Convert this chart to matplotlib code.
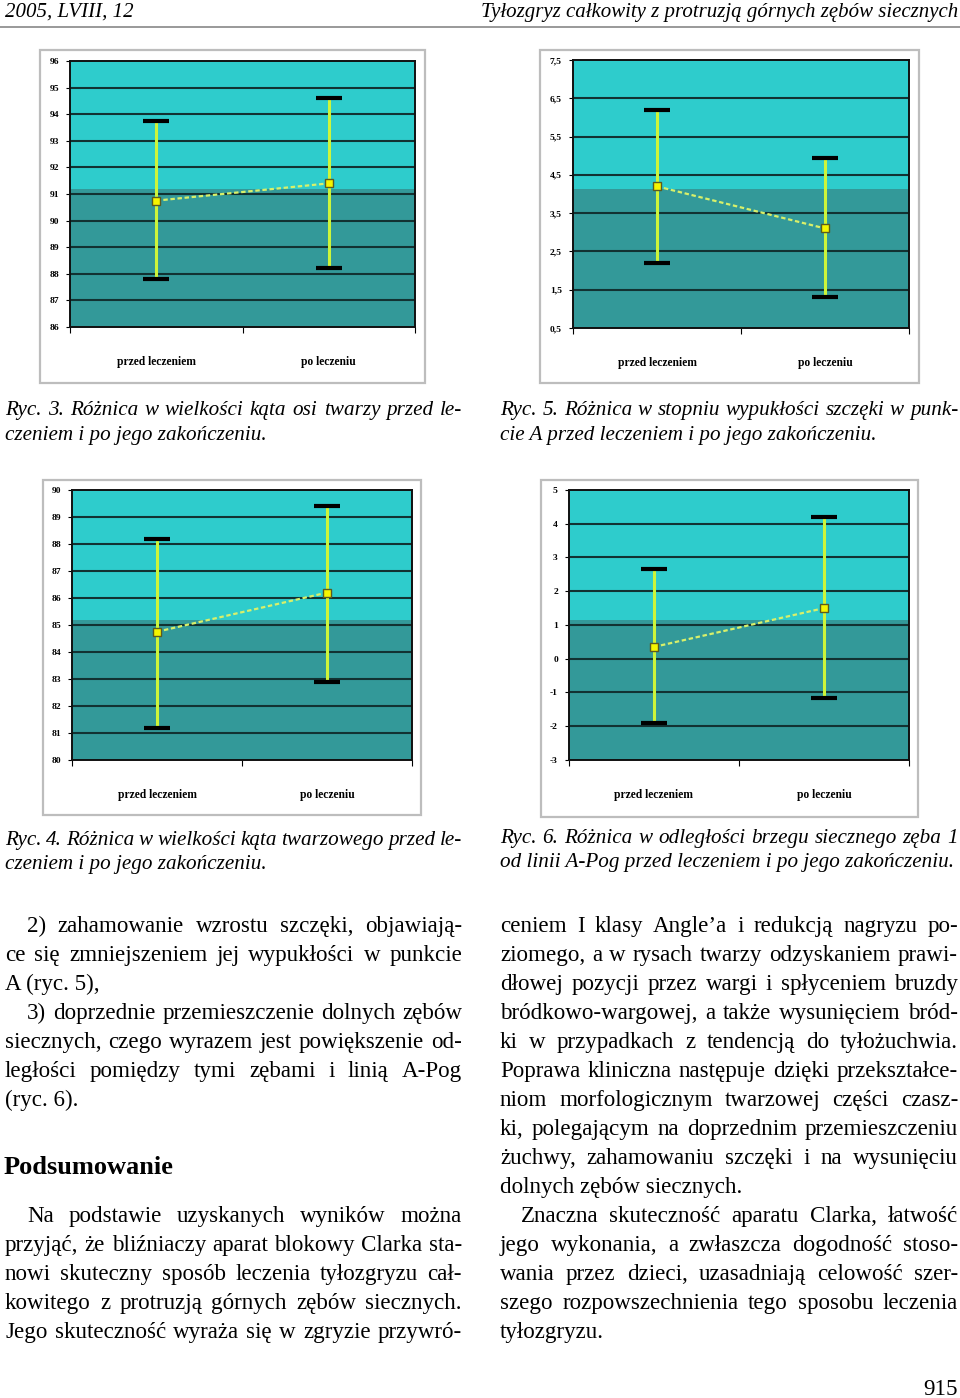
import matplotlib
matplotlib.use('Agg')
import matplotlib.pyplot as plt
from matplotlib.patches import Rectangle

W, H = 960, 1398

categories = ['przed leczeniem', 'po leczeniu']

# Ryc. 3 - kat osi twarzy
ryc3_mean = [90.75, 91.4]
ryc3_low = [87.8, 88.2]
ryc3_high = [93.75, 94.6]
ryc3_ticks = [86, 87, 88, 89, 90, 91, 92, 93, 94, 95, 96]

# Ryc. 5 - wypuklosc szczeki w punkcie A
ryc5_mean = [4.2, 3.1]
ryc5_low = [2.2, 1.3]
ryc5_high = [6.2, 4.95]
ryc5_ticks = [0.5, 1.5, 2.5, 3.5, 4.5, 5.5, 6.5, 7.5]

# Ryc. 4 - kat twarzowy
ryc4_mean = [84.75, 86.2]
ryc4_low = [81.2, 82.9]
ryc4_high = [88.2, 89.4]
ryc4_ticks = [80, 81, 82, 83, 84, 85, 86, 87, 88, 89, 90]

# Ryc. 6 - odleglosc brzegu siecznego od linii A-Pog
ryc6_mean = [0.35, 1.5]
ryc6_low = [-1.9, -1.15]
ryc6_high = [2.65, 4.2]
ryc6_ticks = [-3, -2, -1, 0, 1, 2, 3, 4, 5]

LIGHT = '#2ecccc'
DARK = '#339999'
SERIF = 'Liberation Serif'

fig = plt.figure(figsize=(W / 100, H / 100), dpi=100)
fig.patch.set_facecolor('white')


def fx(x):
    return x / W


def fy(y):
    return 1 - y / H


def chart(frame, plot, mean, low, high, ticks, fmt):
    fl, ft, fr, fb = frame
    fig.patches.append(Rectangle((fx(fl), fy(fb)), fx(fr - fl), (fb - ft) / H,
                                 transform=fig.transFigure, facecolor='white',
                                 edgecolor='#bdbdbd', lw=1.6, zorder=-1))
    pl, pt, pr, pb = plot
    ax = fig.add_axes([fx(pl), fy(pb), fx(pr - pl), (pb - pt) / H])
    ax.set_zorder(2)
    ax.set_facecolor(LIGHT)
    ax.add_patch(Rectangle((0, 0), 1, 0.52, transform=ax.transAxes,
                           facecolor=DARK, edgecolor='none', zorder=0))
    ax.set_ylim(ticks[0], ticks[-1])
    ax.set_xlim(0, 2)
    for t in ticks[1:-1]:
        ax.axhline(t, color='#123232', lw=1.5, zorder=1)
    x = [0.5, 1.5]
    ax.plot(x, mean, color='#d8f06a', lw=1.6, ls=(0, (2, 1.2)), zorder=3)
    yerr = [[m - lo for m, lo in zip(mean, low)], [hi - m for m, hi in zip(mean, high)]]
    ax.errorbar(x, mean, yerr=yerr, fmt='none', ecolor='#cdf53a', elinewidth=2.2,
                capsize=0, zorder=2)
    # black caps drawn on top
    ax.scatter(x + x, low + high, marker='_', s=340, color='black', lw=3, zorder=4)
    ax.plot(x, mean, ls='none', marker='s', ms=6, mfc='#f5f500', mec='#5a5a20',
            mew=1, zorder=5)
    ax.set_yticks(ticks)
    ax.set_yticklabels([fmt(t) for t in ticks], fontsize=6.8, fontweight='bold',
                       family=SERIF)
    ax.set_xticks([0, 1, 2])
    ax.set_xticklabels([])
    ax.set_xticks([0.5, 1.5], minor=True)
    ax.set_xticklabels(categories, minor=True, fontsize=8.3, fontweight='bold',
                       family=SERIF)
    ax.tick_params(axis='x', which='minor', length=0, pad=21)
    ax.tick_params(axis='x', which='major', length=4, width=0.8)
    ax.tick_params(axis='y', length=3, width=0.8, pad=5)
    for s in ax.spines.values():
        s.set_color('#101010')
        s.set_linewidth(1.4)
    return ax


chart((40, 50, 425, 383), (70, 61, 415, 327), ryc3_mean, ryc3_low, ryc3_high,
      ryc3_ticks, lambda t: '%d' % t)
chart((540, 50, 919, 383), (573, 60, 909, 328), ryc5_mean, ryc5_low, ryc5_high,
      ryc5_ticks, lambda t: ('%.1f' % t).replace('.', ','))
chart((43, 480, 421, 815), (72, 490, 412, 760), ryc4_mean, ryc4_low, ryc4_high,
      ryc4_ticks, lambda t: '%d' % t)
chart((541, 480, 918, 817), (569, 490, 909, 760), ryc6_mean, ryc6_low, ryc6_high,
      ryc6_ticks, lambda t: '%d' % t)

renderer = fig.canvas.get_renderer()


def word_width(word, props):
    t = fig.text(0, 0, word, **props)
    w = t.get_window_extent(renderer).width
    t.remove()
    return w


def line(x0, x1, y, txt, props, justify=True):
    base = fy(y)
    if not justify:
        fig.text(fx(x0), base, txt, va='baseline', ha='left', **props)
        return
    words = txt.split()
    widths = [word_width(w, props) for w in words]
    gap = (x1 - x0 - sum(widths)) / max(len(words) - 1, 1)
    x = x0
    for w, wd in zip(words, widths):
        fig.text(fx(x), base, w, va='baseline', ha='left', **props)
        x += wd + gap


# header
hdr = dict(family=SERIF, style='italic', fontsize=15)
fig.text(fx(5), fy(17), '2005, LVIII, 12', va='baseline', ha='left', **hdr)
fig.text(fx(958), fy(17), 'Tyłozgryz całkowity z protruzją górnych zębów siecznych',
         va='baseline', ha='right', **hdr)
fig.add_artist(plt.Line2D([0, 1], [fy(27), fy(27)], color='#888888', lw=1.2))

# captions
cap = dict(family=SERIF, style='italic', fontsize=15.2)
line(5, 462, 415, 'Ryc. 3. Różnica w wielkości kąta osi twarzy przed le-', cap)
line(5, 462, 440, 'czeniem i po jego zakończeniu.', cap, False)
line(500, 958, 415, 'Ryc. 5. Różnica w stopniu wypukłości szczęki w punk-', cap)
line(500, 958, 440, 'cie A przed leczeniem i po jego zakończeniu.', cap, False)
line(5, 462, 845, 'Ryc. 4. Różnica w wielkości kąta twarzowego przed le-', cap)
line(5, 462, 869, 'czeniem i po jego zakończeniu.', cap, False)
line(500, 958, 843, 'Ryc. 6. Różnica w odległości brzegu siecznego zęba 1', cap)
line(500, 958, 867, 'od linii A-Pog przed leczeniem i po jego zakończeniu.', cap, False)

# body text
body = dict(family=SERIF, fontsize=16.6)
left_lines = [
    (27, 932, '2) zahamowanie wzrostu szczęki, objawiają-', True),
    (5, 961, 'ce się zmniejszeniem jej wypukłości w punkcie', True),
    (5, 990, 'A (ryc. 5),', False),
    (27, 1019, '3) doprzednie przemieszczenie dolnych zębów', True),
    (5, 1048, 'siecznych, czego wyrazem jest powiększenie od-', True),
    (5, 1077, 'ległości pomiędzy tymi zębami i linią A-Pog', True),
    (5, 1106, '(ryc. 6).', False),
    (27, 1222, 'Na podstawie uzyskanych wyników można', True),
    (5, 1251, 'przyjąć, że bliźniaczy aparat blokowy Clarka sta-', True),
    (5, 1280, 'nowi skuteczny sposób leczenia tyłozgryzu cał-', True),
    (5, 1309, 'kowitego z protruzją górnych zębów siecznych.', True),
    (5, 1338, 'Jego skuteczność wyraża się w zgryzie przywró-', True),
]
for x0, y, txt, j in left_lines:
    line(x0, 462, y, txt, body, j)

fig.text(fx(4), fy(1174), 'Podsumowanie', va='baseline', ha='left',
         family=SERIF, fontweight='bold', fontsize=19)

right_lines = [
    (500, 932, 'ceniem I klasy Angle’a i redukcją nagryzu po-', True),
    (500, 961, 'ziomego, a w rysach twarzy odzyskaniem prawi-', True),
    (500, 990, 'dłowej pozycji przez wargi i spłyceniem bruzdy', True),
    (500, 1019, 'bródkowo-wargowej, a także wysunięciem bród-', True),
    (500, 1048, 'ki w przypadkach z tendencją do tyłożuchwia.', True),
    (500, 1077, 'Poprawa kliniczna następuje dzięki przekształce-', True),
    (500, 1106, 'niom morfologicznym twarzowej części czasz-', True),
    (500, 1135, 'ki, polegającym na doprzednim przemieszczeniu', True),
    (500, 1164, 'żuchwy, zahamowaniu szczęki i na wysunięciu', True),
    (500, 1193, 'dolnych zębów siecznych.', False),
    (521, 1222, 'Znaczna skuteczność aparatu Clarka, łatwość', True),
    (500, 1251, 'jego wykonania, a zwłaszcza dogodność stoso-', True),
    (500, 1280, 'wania przez dzieci, uzasadniają celowość szer-', True),
    (500, 1309, 'szego rozpowszechnienia tego sposobu leczenia', True),
    (500, 1338, 'tyłozgryzu.', False),
]
for x0, y, txt, j in right_lines:
    line(x0, 958, y, txt, body, j)

fig.text(fx(958), fy(1395), '915', va='baseline', ha='right', family=SERIF,
         fontsize=16.6)

fig.savefig('out.png', dpi=100)
